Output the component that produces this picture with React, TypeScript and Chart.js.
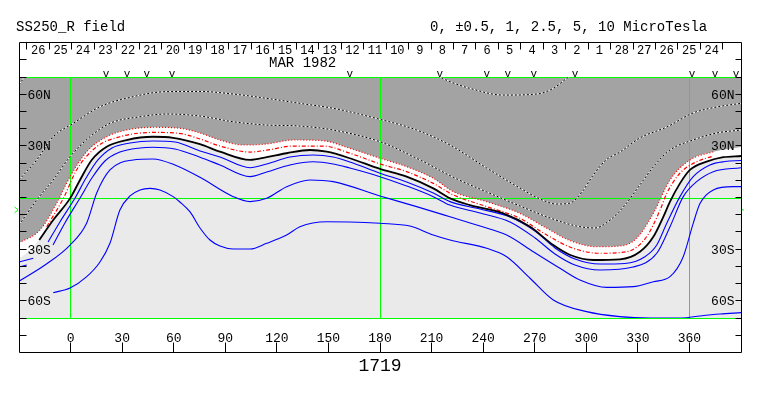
import React, { useEffect, useRef } from 'react';
import { Chart, registerables } from 'chart.js';

Chart.register(...registerables);

type Pt = [number, number];

// ---------- axes / labels ----------
const LON_MIN = -30;
const LON_MAX = 390;
const LAT_MIN = -70;
const LAT_MAX = 70;
const lonTicks = [0, 30, 60, 90, 120, 150, 180, 210, 240, 270, 300, 330, 360];
const latTicks = [-80, -70, -60, -50, -40, -30, -20, -10, 0, 10, 20, 30, 40, 50, 60, 70, 80];
const latLabelValues = [60, 30, -30, -60];
const latLabelTexts = ['60N', '30N', '30S', '60S'];
const gridLons = [0, 180, 360];
const gridLats = [-70, 0, 70];
const dayLabels = ['26', '25', '24', '23', '22', '21', '20', '19', '18', '17', '16', '15', '14', '13', '12', '11', '10', '9', '8', '7', '6', '5', '4', '3', '2', '1', '28', '27', '26', '25', '24'];
const dayEdgeStartLon = -25.4;
const dayWidthLon = 13.06;
const markerLons = [20.6, 32.8, 44.4, 59.0, 162.5, 214.8, 242.2, 254.4, 269.5, 293.4, 361.5, 374.9, 387.1];
const monthText = 'MAR 1982';
const monthLon = 135;
const rotationText = '1719';
const titleLeft = 'SS250_R field';
const titleRight = '0, \u00b10.5, 1, 2.5, 5, 10 MicroTesla';
const b0Lat = -7.2;
const redEndLon = 374;

// ---------- contours (lon, lat) ----------
const neutral: Pt[] = [[-18.2, -24.7], [-10.1, -13.1], [-0.3, -0.5], [5.5, 10.2], [12.3, 21.8], [21.0, 29.5], [32.6, 33.4], [47.9, 35.3], [59.6, 34.7], [75.3, 31.0], [86.9, 26.6], [104.4, 21.8], [114.1, 23.4], [125.7, 25.7], [139.3, 27.6], [149.0, 26.6], [162.5, 22.8], [180.0, 16.6], [195.5, 12.1], [211.0, 5.3], [220.8, -0.5], [232.3, -4.4], [251.7, -9.2], [267.3, -17.0], [280.8, -27.6], [290.7, -33.4], [304.1, -36.3], [319.6, -35.9], [331.2, -31.5], [339.0, -22.8], [344.8, -11.2], [348.7, -2.4], [354.5, 8.2], [360.3, 16.0], [370.0, 20.8], [379.7, 23.4], [390, 24.1]];
const lightEdgeStart: Pt[] = [[-30, -35.5], [-24, -31.0]];
const grayEdge: Pt[] = [[-30, -26.4], [-17.8, -18.9], [-8.1, -3.4], [-0.3, 12.1], [9.4, 26.6], [21.0, 35.3], [32.6, 39.2], [48.1, 40.8], [63.6, 40.2], [75.3, 37.5], [86.9, 33.4], [100.5, 30.5], [114.1, 31.1], [129.6, 33.4], [147.0, 33.0], [160.6, 29.2], [180.0, 22.8], [195.5, 17.9], [211.0, 11.2], [222.6, 3.4], [242.1, -2.4], [261.4, -9.2], [277.0, -17.9], [290.7, -25.1], [306.1, -28.6], [319.6, -28.2], [329.3, -23.7], [339.0, -9.2], [348.7, 10.2], [360.3, 21.8], [373.9, 26.6], [390, 29.3]];
const innerRed: Pt[] = [[-13.9, -17.0], [-4.2, -0.5], [3.5, 16.0], [15.2, 29.5], [28.7, 35.3], [48.1, 37.8], [63.0, 37.3], [75.3, 34.0], [86.9, 29.9], [104.4, 26.4], [114.1, 27.5], [129.6, 29.9], [147.0, 29.9], [162.5, 25.7], [180.0, 19.5], [195.5, 15.0], [211.0, 8.2], [222.6, 1.5], [242.1, -5.3], [261.4, -12.1], [277.0, -21.8], [292.4, -29.5], [308.0, -32.4], [323.5, -31.5], [335.1, -22.8], [342.9, -7.3], [346.8, 2.4], [354.5, 14.1], [364.2, 20.8], [373.9, 24.1]];
const blueHalfFrag: Pt[] = [[-30, -37.5], [-21.7, -35.3]];
const blueHalf: Pt[] = [[-13.1, -25.9], [-6.2, -14.2], [2.6, -0.3], [9.0, 11.3], [15.9, 21.8], [24.1, 28.8], [34.6, 31.7], [47.9, 32.8], [60.7, 32.2], [75.3, 27.0], [86.9, 23.5], [104.4, 17.3], [114.1, 19.5], [127.6, 23.5], [141.2, 24.7], [152.8, 23.5], [162.5, 20.6], [180.0, 14.1], [195.5, 9.0], [211.0, 2.6], [220.7, -2.4], [238.2, -6.7], [255.6, -11.3], [270.2, -19.5], [281.8, -29.3], [293.4, -35.7], [308.0, -38.6], [322.5, -38.3], [334.1, -34.4], [341.0, -27.6], [346.8, -15.0], [354.5, 0.5], [362.2, 12.1], [371.9, 18.9], [380.7, 20.9], [390, 21.5]];
const blueOneFrag: Pt[] = [[-30, -40.4], [-25.5, -39.2]];
const blueOne: Pt[] = [[-10.2, -27.6], [-3.3, -14.8], [5.5, -0.3], [12.4, 11.3], [20.0, 21.2], [28.7, 26.4], [40.4, 28.8], [47.9, 29.2], [60.7, 28.2], [75.3, 23.4], [86.9, 18.9], [104.4, 12.1], [114.1, 14.8], [127.6, 18.9], [141.2, 20.8], [152.8, 19.5], [162.5, 17.1], [180.0, 12.1], [195.5, 6.7], [211.0, 0.5], [220.7, -4.4], [238.2, -9.0], [255.6, -14.2], [270.2, -23.5], [281.8, -32.8], [293.4, -39.2], [308.0, -42.1], [327.2, -40.4], [341.0, -32.4], [348.7, -17.0], [356.4, 0.5], [364.2, 9.2], [373.9, 15.0], [390, 17.3]];
const blueTwoHalf: Pt[] = [[-30, -48.6], [-14.9, -39.2], [-0.3, -27.6], [9.4, -14.8], [15.2, 2.6], [22.9, 16.0], [36.3, 21.8], [47.9, 22.4], [60.7, 18.9], [75.3, 11.7], [94.6, 0.5], [104.4, -2.4], [114.1, -0.5], [125.7, 6.3], [139.3, 10.2], [152.8, 9.2], [180.0, 0.9], [201.3, -5.3], [220.7, -11.2], [238.2, -16.6], [253.7, -21.8], [269.2, -31.5], [284.7, -41.1], [296.3, -47.9], [311.9, -52.2], [327.3, -51.8], [339.0, -48.9], [348.7, -46.0], [356.4, -34.4], [362.2, -15.0], [366.2, -3.4], [373.9, 4.4], [385.4, 6.3], [390, 6.3]];
const blueFive: Pt[] = [[-10.1, -55.3], [-0.3, -52.6], [9.4, -46.0], [17.1, -37.5], [22.9, -26.6], [28.7, -7.3], [34.6, 0.9], [40.4, 4.4], [46.2, 5.3], [52.0, 4.4], [59.7, 0.5], [63.6, -2.6], [69.5, -8.4], [75.3, -17.7], [81.1, -24.7], [86.9, -28.2], [94.6, -29.9], [104.4, -29.9], [114.1, -26.6], [125.7, -21.8], [133.4, -17.0], [149.0, -14.1], [162.5, -14.2], [180.0, -15.0], [197.4, -16.6], [211.0, -21.8], [220.7, -24.7], [242.1, -29.5], [253.7, -34.4], [267.3, -46.9], [280.8, -59.5], [300.2, -66.3], [319.6, -69.2], [337.1, -70.0], [355.5, -70.0], [366.2, -68.8], [377.8, -67.7], [390, -66.9]];
const dotTwoHalf: Pt[] = [[-30, -16.0], [-19.7, -1.5], [-10.1, 10.2], [-0.3, 23.7], [11.3, 35.3], [22.9, 43.1], [40.4, 46.9], [55.9, 48.5], [75.3, 47.3], [94.6, 44.0], [114.1, 42.1], [133.4, 41.5], [152.8, 39.2], [180.0, 32.4], [203.3, 21.8], [222.4, 11.9], [242.1, 3.2], [261.4, -4.9], [278.9, -11.9], [294.4, -16.6], [305.1, -17.7], [313.8, -13.1], [322.5, -4.4], [331.2, 7.3], [339.9, 18.9], [348.7, 27.6], [362.1, 33.4], [376.0, 37.5], [390, 39.2]];
const dotFive: Pt[] = [[-30, 10.2], [-19.7, 21.8], [-10.1, 35.3], [1.6, 43.1], [17.1, 52.7], [36.5, 58.6], [55.9, 61.5], [75.3, 61.6], [94.6, 60.1], [114.1, 57.6], [133.4, 54.7], [152.8, 51.8], [180.0, 45.4], [201.3, 39.2], [220.7, 30.5], [242.1, 17.1], [261.4, 5.5], [273.2, -0.9], [282.8, -3.8], [290.6, -3.2], [297.5, 3.2], [304.1, 13.1], [311.5, 21.8], [319.6, 26.4], [331.2, 34.6], [346.9, 41.0], [362.1, 49.1], [376.0, 52.6], [390, 54.7]];
const dotTenCorner: Pt[] = [[-30, 65.5], [-26.5, 70.5]];
const dotTenArc: Pt[] = [[213.7, 70.5], [220.7, 67.3], [232.3, 63.4], [251.7, 59.5], [271.1, 60.1], [280.8, 63.4], [288.6, 69.2], [290.6, 70.5]];

const GRAY = '#a3a3a3';
const LIGHT = '#eaeaea';
const BLUE = '#0000ff';
const RED = '#ff0000';
const GREEN = '#00ff00';
const FONT = '"Liberation Mono", "DejaVu Sans Mono", monospace';

const toXY = (pts: Pt[]) => pts.map(([x, y]) => ({ x, y }));

function lineDs(label: string, pts: Pt[], color: string, width: number, dash: number[] = [], extra: any = {}) {
  return {
    label,
    data: toXY(pts),
    borderColor: color,
    borderWidth: width,
    borderDash: dash,
    pointRadius: 0,
    pointHoverRadius: 0,
    fill: false,
    cubicInterpolationMode: 'monotone',
    ...extra,
  };
}

const decorPlugin = {
  id: 'decor',
  beforeDatasetsDraw(chart: any) {
    const { ctx } = chart;
    const x = chart.scales.x;
    const y = chart.scales.y;
    ctx.save();
    ctx.fillStyle = GREEN;
    const top = Math.round(y.getPixelForValue(LAT_MAX));
    const bot = Math.round(y.getPixelForValue(LAT_MIN));
    const left = Math.round(x.getPixelForValue(LON_MIN));
    const right = Math.round(x.getPixelForValue(LON_MAX));
    for (const lon of gridLons) {
      const px = Math.floor(x.getPixelForValue(lon));
      ctx.fillRect(px, top, 1, bot - top + 1);
    }
    for (const lat of gridLats) {
      const py = Math.round(y.getPixelForValue(lat));
      ctx.fillRect(left, py, right - left, 1);
    }
    ctx.restore();
  },
  afterDraw(chart: any) {
    const { ctx } = chart;
    const x = chart.scales.x;
    const y = chart.scales.y;
    const X = (v: number) => x.getPixelForValue(v);
    const Y = (v: number) => y.getPixelForValue(v);
    const c = (v: number) => Math.floor(v) + 0.5;
    const xL = c(X(LON_MIN));
    const xR = c(X(LON_MAX));
    const yT = c(Y(90));
    const yB = c(Y(-90));
    ctx.save();
    ctx.strokeStyle = '#000';
    ctx.fillStyle = '#000';
    ctx.lineWidth = 1;
    ctx.beginPath();
    ctx.rect(xL, yT, xR - xL, yB - yT);
    for (const lat of latTicks) {
      const py = c(Y(lat));
      ctx.moveTo(xL, py);
      ctx.lineTo(xL + 7, py);
      ctx.moveTo(xR, py);
      ctx.lineTo(xR - 6, py);
    }
    for (const lon of lonTicks) {
      const px = c(X(lon));
      ctx.moveTo(px, yB);
      ctx.lineTo(px, yB - 10);
    }
    for (let i = 0; i <= dayLabels.length; i++) {
      const px = c(X(dayEdgeStartLon + i * dayWidthLon));
      ctx.moveTo(px, yT);
      ctx.lineTo(px, yT + 7);
    }
    ctx.stroke();

    // lon labels
    ctx.font = `13px ${FONT}`;
    ctx.textAlign = 'center';
    ctx.textBaseline = 'alphabetic';
    for (const lon of lonTicks) ctx.fillText(String(lon), X(lon), yB - 11);

    // lat labels
    latLabelValues.forEach((lat, i) => {
      const py = Y(lat) + 4.5;
      ctx.textAlign = 'left';
      ctx.fillText(latLabelTexts[i], xL + 8, py);
      ctx.textAlign = 'right';
      ctx.fillText(latLabelTexts[i], xR - 7, py);
    });

    // day labels
    ctx.font = `12px ${FONT}`;
    ctx.textAlign = 'center';
    dayLabels.forEach((d, i) => {
      ctx.fillText(d, X(dayEdgeStartLon + (i + 0.5) * dayWidthLon), yT + 11);
    });

    // month
    ctx.font = `14px ${FONT}`;
    ctx.fillText(monthText, X(monthLon), yT + 24.5);

    // markers
    ctx.font = `11px ${FONT}`;
    for (const m of markerLons) ctx.fillText('v', X(m), Y(LAT_MAX) - 0.5);

    // titles
    ctx.font = `14px ${FONT}`;
    ctx.textAlign = 'left';
    ctx.fillText(titleLeft, 16, 31);
    ctx.fillText(titleRight, 430, 31);

    // rotation number
    ctx.font = `18px ${FONT}`;
    ctx.textAlign = 'center';
    ctx.fillText(rotationText, X(180), 371);

    // B0 marker
    const pb = Y(b0Lat);
    ctx.strokeStyle = GREEN;
    ctx.beginPath();
    ctx.moveTo(xL - 5, pb - 3);
    ctx.lineTo(xL - 1.5, pb);
    ctx.lineTo(xL - 5, pb + 3);
    ctx.moveTo(xR + 0.5, pb);
    ctx.lineTo(xR + 2.5, pb);
    ctx.stroke();
    ctx.restore();
  },
};

export default function App() {
  const ref = useRef<HTMLCanvasElement | null>(null);
  useEffect(() => {
    document.body.style.margin = '0';
    const outerRed = grayEdge.filter(([lon]) => lon <= redEndLon);
    const dotted = [dotTwoHalf, dotFive, dotTenCorner, dotTenArc];
    const datasets: any[] = [
      lineDs('0', neutral, '#000000', 1.8),
      lineDs('+0.5', innerRed, RED, 1.2, [4, 2, 1, 2]),
      lineDs('+1', outerRed, RED, 1.2, [1, 2]),
      lineDs('-0.5', blueHalf, BLUE, 1.1),
      lineDs('-0.5b', blueHalfFrag, BLUE, 1.1),
      lineDs('-1', blueOne, BLUE, 1.1),
      lineDs('-1b', blueOneFrag, BLUE, 1.1),
      lineDs('-2.5', blueTwoHalf, BLUE, 1.1),
      lineDs('-5', blueFive, BLUE, 1.1),
      ...dotted.map((d, i) => lineDs('dk' + i, d, '#000000', 1, [2, 2])),
      ...dotted.map((d, i) => lineDs('wh' + i, d, '#ffffff', 1)),
      lineDs('grayFill', grayEdge, 'rgba(0,0,0,0)', 1, [], { fill: 'end', backgroundColor: GRAY }),
      lineDs('lightFill', [...lightEdgeStart, ...neutral], 'rgba(0,0,0,0)', 1, [], { fill: 'start', backgroundColor: LIGHT }),
    ];
    const chart = new Chart(ref.current as HTMLCanvasElement, {
      type: 'line',
      data: { datasets },
      options: {
        animation: false,
        responsive: false,
        devicePixelRatio: 1,
        events: [],
        layout: { padding: { left: 19, right: 22, top: 77, bottom: 78 } },
        scales: {
          x: { type: 'linear', min: LON_MIN, max: LON_MAX, display: false },
          y: { type: 'linear', min: LAT_MIN, max: LAT_MAX, display: false },
        },
        plugins: {
          legend: { display: false },
          tooltip: { enabled: false },
          filler: { drawTime: 'beforeDatasetsDraw', propagate: false },
        },
      } as any,
      plugins: [decorPlugin as any],
    } as any);
    return () => chart.destroy();
  }, []);
  return (
    <div style={{ position: 'fixed', left: 0, top: 0, width: 763, height: 396, background: '#ffffff' }}>
      <canvas ref={ref} width={763} height={396} style={{ width: 763, height: 396, display: 'block' }} />
    </div>
  );
}
